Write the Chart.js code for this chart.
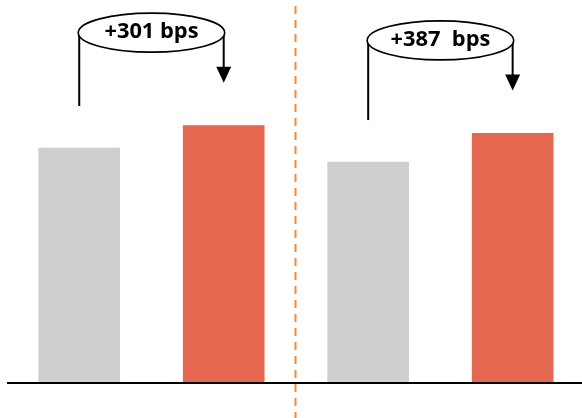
<!DOCTYPE html>
<html>
<head>
<meta charset="utf-8">
<script src="https://cdn.jsdelivr.net/npm/chart.js@4/dist/chart.umd.min.js"></script>
<style>
  html, body { margin: 0; padding: 0; background: #ffffff; }
  canvas { display: block; }
</style>
</head>
<body>
<canvas id="c" width="582" height="418"></canvas>
<script>
// ---- data ----
const categories = ['Group A – before', 'Group A – after', 'Group B – before', 'Group B – after'];
const positions = [0, 1, 2, 3];
const values = [31.70, 34.71, 29.80, 33.67];
const changeLabels = ['+301 bps', '+387  bps'];
const dividerPosition = 1.5;

// ---- styles ----
const barColors = ['#D0CECE', '#E5674F', '#D0CECE', '#E5674F'];

const annotationPlugin = {
  id: 'annotations',
  afterDatasetsDraw(chart) {
    const ctx = chart.ctx;
    const xs = chart.scales.x, ys = chart.scales.y;
    const area = chart.chartArea;
    ctx.save();

    // baseline
    const y0 = ys.getPixelForValue(0);
    ctx.strokeStyle = '#000000';
    ctx.lineWidth = 2;
    ctx.beginPath();
    ctx.moveTo(area.left, y0);
    ctx.lineTo(chart.width, y0);
    ctx.stroke();

    // dashed divider
    const dx = Math.round(xs.getPixelForValue(dividerPosition)) - 0.5;
    ctx.strokeStyle = '#F0893F';
    ctx.lineWidth = 2;
    ctx.setLineDash([8, 6]);
    ctx.beginPath();
    ctx.moveTo(dx, 6);
    ctx.lineTo(dx, chart.height);
    ctx.stroke();
    ctx.setLineDash([]);

    // change annotations
    for (let i = 0; i < changeLabels.length; i++) {
      const gx = xs.getPixelForValue(positions[2 * i]);
      const rx = xs.getPixelForValue(positions[2 * i + 1]);
      const gTop = ys.getPixelForValue(values[2 * i]);
      const rTop = ys.getPixelForValue(values[2 * i + 1]);
      const ey = rTop - 93;
      const cx = (gx + rx) / 2;
      const hw = (rx - gx) / 2 + 1;
      const hh = 19.5;

      ctx.strokeStyle = '#000000';
      ctx.fillStyle = '#000000';
      ctx.lineWidth = 2;
      // left riser
      ctx.beginPath();
      ctx.moveTo(gx, gTop - 42);
      ctx.lineTo(gx, ey);
      ctx.stroke();
      // right down arrow
      const tip = rTop - 43;
      ctx.beginPath();
      ctx.moveTo(rx, ey);
      ctx.lineTo(rx, tip - 14);
      ctx.stroke();
      ctx.beginPath();
      ctx.moveTo(rx - 7.5, tip - 16);
      ctx.lineTo(rx + 7.5, tip - 16);
      ctx.lineTo(rx, tip);
      ctx.closePath();
      ctx.fill();

      // ellipse
      ctx.beginPath();
      ctx.ellipse(cx, ey, hw, hh, 0, 0, Math.PI * 2);
      ctx.fillStyle = '#ffffff';
      ctx.fill();
      ctx.lineWidth = 1.6;
      ctx.strokeStyle = '#000000';
      ctx.stroke();

      // label
      ctx.save();
      ctx.translate(cx, ey + 5.6);
      ctx.scale(1.04, 1);
      ctx.fillStyle = '#000000';
      ctx.font = 'bold 21px "Open Sans", Lato, sans-serif';
      ctx.textAlign = 'center';
      ctx.textBaseline = 'alphabetic';
      ctx.fillText(changeLabels[i], 0, 0);
      ctx.restore();
    }
    ctx.restore();
  }
};

new Chart(document.getElementById('c'), {
  type: 'bar',
  data: {
    labels: categories,
    datasets: [{
      data: positions.map((p, i) => ({ x: p, y: values[i] })),
      backgroundColor: barColors,
      borderWidth: 0,
      barThickness: 81
    }]
  },
  options: {
    responsive: false,
    animation: false,
    devicePixelRatio: 1,
    layout: { padding: { left: 7, right: 0, top: 0, bottom: 35 } },
    plugins: { legend: { display: false }, tooltip: { enabled: false } },
    scales: {
      x: { type: 'linear', offset: false, min: -0.5, max: 3.48, display: false },
      y: { min: 0, max: 51.66, display: false }
    }
  },
  plugins: [annotationPlugin]
});
</script>
</body>
</html>
